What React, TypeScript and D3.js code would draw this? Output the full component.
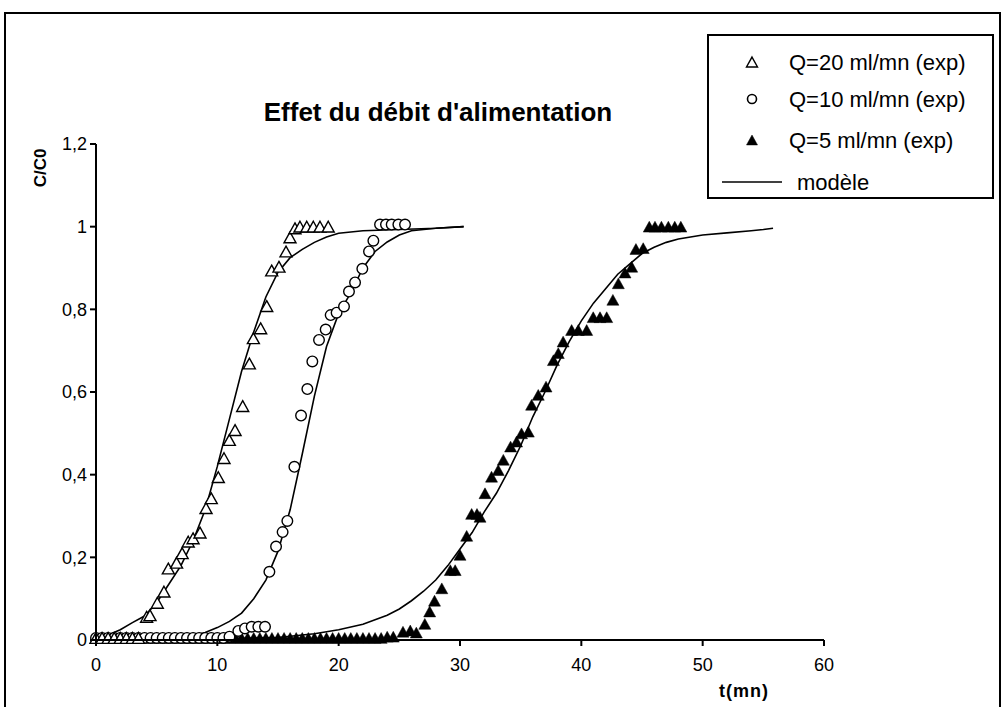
import React from "react";
import * as d3 from "d3";

// ---- data ----
const xTicks = [0, 10, 20, 30, 40, 50, 60];
const yTicks = [0, 0.2, 0.4, 0.6, 0.8, 1, 1.2];
const yTickLabels = ["0", "0,2", "0,4", "0,6", "0,8", "1", "1,2"];

// Q=20 ml/mn experimental (open triangles)
const q20T = [0, 0.5, 1, 1.5, 2, 2.5, 3, 3.5, 4.17, 4.45, 5.05, 5.6, 5.96, 6.64, 7.1, 7.6, 8.0, 8.57, 9.07, 9.5, 10.08, 10.55, 10.99, 11.46, 12.09, 12.64, 12.97, 13.57, 14.07, 14.48, 15.08, 15.66, 15.99, 16.4, 16.81, 17.37, 17.91, 18.46, 19.14];
const q20C = [0.005, 0.005, 0.005, 0.005, 0.005, 0.005, 0.005, 0.005, 0.056, 0.06, 0.09, 0.117, 0.173, 0.187, 0.21, 0.238, 0.246, 0.26, 0.319, 0.343, 0.394, 0.44, 0.484, 0.508, 0.566, 0.669, 0.73, 0.754, 0.808, 0.894, 0.903, 0.94, 0.974, 0.996, 1.0, 1.0, 1.0, 1.0, 1.0];

// Q=10 ml/mn experimental (open circles)
const q10T = [0, 0.5, 1, 1.5, 2, 2.5, 3, 3.5, 4, 4.5, 5, 5.5, 6, 6.5, 7, 7.5, 8, 8.5, 9, 9.5, 10, 10.5, 11, 11.73, 12.28, 12.83, 13.38, 13.93, 14.29, 14.84, 15.38, 15.77, 16.35, 16.9, 17.42, 17.83, 18.38, 18.93, 19.34, 19.83, 20.44, 20.85, 21.35, 21.95, 22.5, 22.86, 23.41, 23.9, 24.37, 24.92, 25.47];
const q10C = [0.005, 0.005, 0.005, 0.005, 0.005, 0.005, 0.005, 0.005, 0.005, 0.005, 0.005, 0.005, 0.005, 0.005, 0.005, 0.005, 0.005, 0.005, 0.005, 0.005, 0.005, 0.005, 0.008, 0.022, 0.028, 0.032, 0.032, 0.032, 0.165, 0.226, 0.261, 0.288, 0.419, 0.543, 0.607, 0.674, 0.726, 0.751, 0.786, 0.792, 0.807, 0.843, 0.865, 0.898, 0.94, 0.966, 1.005, 1.005, 1.005, 1.005, 1.005];

// Q=5 ml/mn experimental (filled triangles)
const q5T = [0, 0.5, 1, 1.5, 2, 2.5, 3, 3.5, 4, 4.5, 5, 5.5, 6, 6.5, 7, 7.5, 8, 8.5, 9, 9.5, 10, 10.5, 11, 11.5, 12, 12.5, 13, 13.5, 14, 14.5, 15, 15.5, 16, 16.5, 17, 17.5, 18, 18.5, 19, 19.5, 20, 20.5, 21, 21.5, 22, 22.5, 23, 23.5, 24, 24.5, 25.3, 25.9, 26.4, 27.1, 27.5, 27.9, 28.5, 29.2, 29.6, 30.0, 30.55, 30.96, 31.4, 31.65, 32.06, 32.6, 33.15, 33.57, 34.17, 34.66, 35.07, 35.63, 35.9, 36.45, 37.09, 37.7, 38.1, 38.5, 39.2, 39.75, 40.44, 40.98, 41.54, 42.09, 42.6, 43.05, 43.6, 44.15, 44.5, 45.1, 45.6, 46.07, 46.6, 47.17, 47.7, 48.2];
const q5C = [0.005, 0.005, 0.005, 0.005, 0.005, 0.005, 0.005, 0.005, 0.005, 0.005, 0.005, 0.005, 0.005, 0.005, 0.005, 0.005, 0.005, 0.005, 0.005, 0.005, 0.005, 0.005, 0.005, 0.005, 0.005, 0.005, 0.005, 0.005, 0.005, 0.005, 0.005, 0.005, 0.005, 0.005, 0.005, 0.005, 0.005, 0.005, 0.005, 0.005, 0.005, 0.005, 0.005, 0.005, 0.005, 0.005, 0.005, 0.005, 0.008, 0.008, 0.02, 0.023, 0.018, 0.039, 0.069, 0.095, 0.125, 0.169, 0.169, 0.206, 0.252, 0.305, 0.305, 0.298, 0.355, 0.395, 0.411, 0.436, 0.468, 0.48, 0.5, 0.504, 0.569, 0.593, 0.613, 0.677, 0.694, 0.722, 0.75, 0.75, 0.75, 0.781, 0.781, 0.781, 0.823, 0.863, 0.889, 0.903, 0.946, 0.948, 1.0, 1.0, 1.0, 1.0, 1.0, 1.0];

// model curves
const m20T = [0, 1, 2, 3, 4, 5, 6, 7, 8, 9, 10, 11, 12, 13, 14, 15, 16, 17, 18, 19, 20, 22, 25, 28, 30.3];
const m20C = [0.005, 0.012, 0.025, 0.042, 0.058, 0.09, 0.135, 0.18, 0.24, 0.315, 0.42, 0.535, 0.65, 0.745, 0.83, 0.89, 0.925, 0.945, 0.962, 0.975, 0.984, 0.99, 0.993, 0.996, 1.0];

const m10T = [0, 6, 8, 9, 10, 11, 12, 13, 14, 15, 16, 17, 18, 19, 20, 21, 22, 23, 24, 25, 26, 28, 30.3];
const m10C = [0.0, 0.004, 0.01, 0.018, 0.03, 0.045, 0.065, 0.1, 0.145, 0.215, 0.315, 0.45, 0.59, 0.71, 0.79, 0.84, 0.9, 0.94, 0.963, 0.98, 0.99, 0.996, 1.0];

const m5T = [0, 10, 15, 18, 20, 22, 24, 25, 26, 27, 28, 29, 30, 31, 32, 33, 34, 35, 36, 37, 38, 39, 40, 41, 42, 43, 44, 45, 46, 47, 48, 49, 50, 52, 54, 55, 55.8];
const m5C = [0.0, 0.002, 0.006, 0.015, 0.025, 0.038, 0.06, 0.075, 0.095, 0.118, 0.145, 0.18, 0.22, 0.26, 0.31, 0.355, 0.41, 0.47, 0.54, 0.6, 0.665, 0.722, 0.772, 0.815, 0.85, 0.885, 0.91, 0.935, 0.95, 0.962, 0.97, 0.975, 0.98, 0.985, 0.99, 0.993, 0.996];

const legendLabels = ["Q=20 ml/mn (exp)", "Q=10 ml/mn (exp)", "Q=5 ml/mn (exp)", "modèle"];
const titleText = "Effet du débit d'alimentation";
const xLabel = "t(mn)";
const yLabel = "C/C0";

const FONT = "'Liberation Sans', Arial, sans-serif";

function triPath(cx: number, cy: number, s: number) {
  const h = s * 0.9;
  return `M${cx},${cy - h / 2}L${cx + s / 2},${cy + h / 2}L${cx - s / 2},${cy + h / 2}Z`;
}

export default function App() {
  const x = d3.scaleLinear().domain([0, 60]).range([96, 824]);
  const y = d3.scaleLinear().domain([0, 1.2]).range([640, 144]);

  const line = d3
    .line<[number, number]>()
    .x((d) => x(d[0]))
    .y((d) => y(d[1]));

  const models = [
    m20T.map((t, i) => [t, m20C[i]] as [number, number]),
    m10T.map((t, i) => [t, m10C[i]] as [number, number]),
    m5T.map((t, i) => [t, m5C[i]] as [number, number]),
  ];

  const triSize = 12;

  return (
    <svg
      width={1003}
      height={707}
      style={{ position: "absolute", left: 0, top: 0, background: "#fff" }}
      fontFamily={FONT}
    >
      <rect x={0} y={0} width={1003} height={707} fill="#fff" />
      {/* outer frame */}
      <rect x={5} y={13} width={995} height={702} fill="none" stroke="#000" strokeWidth={2} />

      {/* title */}
      <text x={438} y={121} textAnchor="middle" fontSize={26} fontWeight="bold">
        {titleText}
      </text>

      {/* model lines */}
      {models.map((m, i) => (
        <path key={i} d={line(m) || ""} fill="none" stroke="#000" strokeWidth={1.6} />
      ))}

      {/* Q=5 filled triangles */}
      {q5T.map((t, i) => (
        <path key={"f" + i} d={triPath(x(t), y(q5C[i]), triSize)} fill="#000" stroke="#000" strokeWidth={0.5} />
      ))}
      {/* Q=10 circles */}
      {q10T.map((t, i) => (
        <circle key={"c" + i} cx={x(t)} cy={y(q10C[i])} r={5.3} fill="#fff" stroke="#000" strokeWidth={1.4} />
      ))}
      {/* Q=20 open triangles */}
      {q20T.map((t, i) => (
        <path key={"t" + i} d={triPath(x(t), y(q20C[i]), triSize)} fill="#fff" stroke="#000" strokeWidth={1.4} />
      ))}

      {/* axes */}
      <line x1={96} y1={y(1.2)} x2={96} y2={640} stroke="#000" strokeWidth={2} />
      <line x1={96} y1={640} x2={x(60)} y2={640} stroke="#000" strokeWidth={2} />
      {yTicks.map((v, i) => (
        <g key={"yt" + i}>
          <line x1={90} x2={96} y1={y(v)} y2={y(v)} stroke="#000" strokeWidth={2} />
          <text x={87} y={y(v)} dy="0.35em" textAnchor="end" fontSize={18}>
            {yTickLabels[i]}
          </text>
        </g>
      ))}
      {xTicks.map((v, i) => (
        <g key={"xt" + i}>
          <line x1={x(v)} x2={x(v)} y1={640} y2={646} stroke="#000" strokeWidth={2} />
          <text x={x(v)} y={671} textAnchor="middle" fontSize={18}>
            {String(v)}
          </text>
        </g>
      ))}
      <text x={744} y={697} textAnchor="middle" fontSize={18} fontWeight="bold" letterSpacing={1}>
        {xLabel}
      </text>
      <text
        transform="translate(46,168) rotate(-90)"
        textAnchor="middle"
        fontSize={17}
        fontWeight="bold"
      >
        {yLabel}
      </text>

      {/* legend */}
      <rect x={708} y={35} width={285} height={163} fill="#fff" stroke="#000" strokeWidth={2} />
      <path d={triPath(752, 62, 11)} fill="#fff" stroke="#000" strokeWidth={1.4} />
      <circle cx={752} cy={99} r={4.5} fill="#fff" stroke="#000" strokeWidth={1.6} />
      <path d={triPath(752, 140, 11)} fill="#000" stroke="#000" strokeWidth={0.5} />
      <line x1={722} x2={782} y1={182} y2={182} stroke="#000" strokeWidth={1.5} />
      {legendLabels.map((l, i) => (
        <text key={"lg" + i} x={i === 3 ? 797 : 789} y={[62, 99, 140, 182][i]} dy="0.35em" fontSize={22}>
          {l}
        </text>
      ))}
    </svg>
  );
}
